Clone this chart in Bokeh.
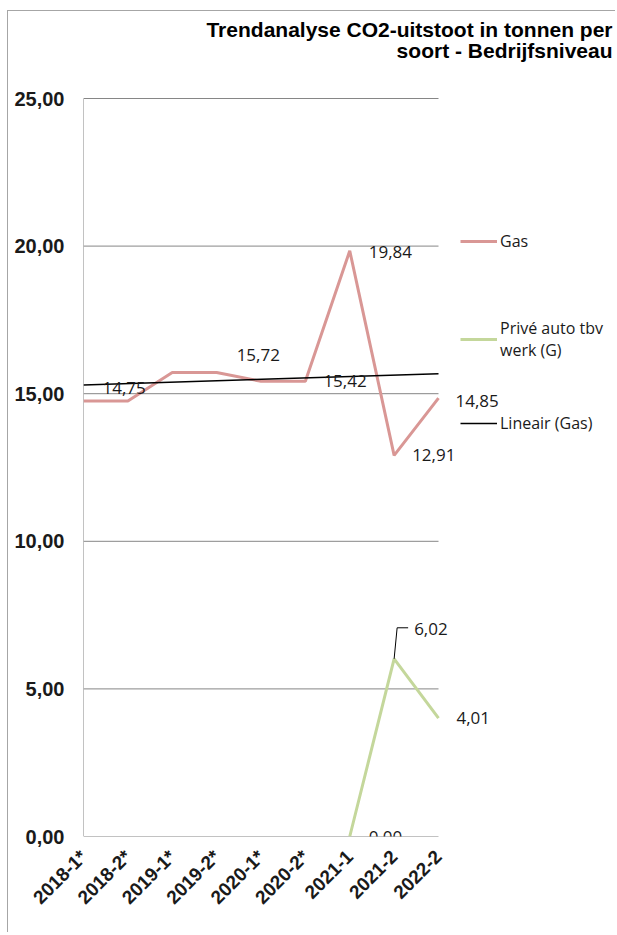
import numpy as np
from bokeh.plotting import figure
from bokeh.models import (ColumnDataSource, Range1d, FixedTicker, LabelSet, Label,
                          Legend, LegendItem)
from bokeh.core.properties import value
from bokeh.embed import file_html
from bokeh.resources import INLINE

nan = float("nan")

# ---------------- data ----------------
categories = ["2018-1*", "2018-2*", "2019-1*", "2019-2*", "2020-1*", "2020-2*",
              "2021-1", "2021-2", "2022-2"]
gas = [14.75, 14.75, 15.72, 15.72, 15.42, 15.42, 19.84, 12.91, 14.85]
prive_auto = [nan, nan, nan, nan, nan, nan, 0.00, 6.02, 4.01]
y_ticks = [0, 5, 10, 15, 20, 25]
y_tick_labels = ["0,00", "5,00", "10,00", "15,00", "20,00", "25,00"]
title_lines = ["Trendanalyse CO2-uitstoot in tonnen per", "soort - Bedrijfsniveau"]
legend_labels = ["Gas", "Privé auto tbv\nwerk (G)", "Lineair (Gas)"]

# which points carry a data label, and the label's pixel offset (layout only)
gas_label_idx = [0, 3, 5, 6, 7, 8]
gas_label_off = [(19, 13), (20, 17), (18, 0), (19, -1), (18, 0), (17, -3)]
prive_label_idx = [6, 7, 8]
prive_label_off = [(19, 0), (20, 30), (18, 0)]

# ---------------- layout (page pixels) ----------------
OX, OY = 8, 11                     # canvas origin on the page (margin 7/10 + 1px border)
W, H = 608, 922                    # canvas size
PLOT_L, PLOT_R, PLOT_T, PLOT_B = 83, 438, 98, 836   # chart area on the page
LEGEND_LEFT = 460
LEGEND_BOTTOMS = [252, 361, 434]   # bottom edge of each legend entry on the page
X_MAX = len(categories) - 1
Y_MAX = 25
px_x = (PLOT_R - PLOT_L) / X_MAX
px_y = (PLOT_B - PLOT_T) / Y_MAX
# the frame spans from the chart's left edge to the canvas right / top edges
x_end = (OX + W - PLOT_L) / px_x
y_end = Y_MAX + (PLOT_T - OY) / px_y

GAS_COLOR = "#D99795"
PRIVE_COLOR = "#C4D79B"
GRID_COLOR = "#868686"
TEXT_COLOR = "#1a1a1a"

fmt = lambda v: f"{v:.2f}".replace(".", ",")

x = list(range(len(categories)))

p = figure(width=W, height=H, output_backend="svg", toolbar_location=None,
           x_range=Range1d(0, x_end), y_range=Range1d(0, y_end),
           min_border_left=PLOT_L - OX, min_border_right=0,
           min_border_top=0, min_border_bottom=OY + H - PLOT_B)
p.outline_line_color = None
p.styles = {"margin-left": "7px", "margin-top": "10px",
            "border-left": "1px solid #a6a6a6", "border-top": "1px solid #a6a6a6"}

# grid lines (limited to the chart area) and the left axis line
p.xgrid.visible = False
p.ygrid.visible = False
p.segment(x0=[0] * len(y_ticks), y0=y_ticks, x1=[X_MAX] * len(y_ticks), y1=y_ticks,
          line_color=GRID_COLOR, line_width=1)
p.segment(x0=[0], y0=[0], x1=[0], y1=[Y_MAX], line_color=GRID_COLOR, line_width=1)

# axes
p.yaxis.ticker = FixedTicker(ticks=y_ticks)
p.yaxis.major_label_overrides = {t: l for t, l in zip(y_ticks, y_tick_labels)}
p.xaxis.ticker = FixedTicker(ticks=x)
p.xaxis.major_label_overrides = {i: c for i, c in zip(x, categories)}
p.xaxis.major_label_orientation = np.pi / 4
for ax in (p.xaxis, p.yaxis):
    ax.axis_line_color = None
    ax.major_tick_line_color = None
    ax.minor_tick_line_color = None
    ax.major_tick_out = 0
    ax.major_tick_in = 0
    ax.major_label_text_font = "Liberation Sans"
    ax.major_label_text_font_style = "bold"
    ax.major_label_text_color = TEXT_COLOR
p.yaxis.major_label_text_font_size = "20px"
p.yaxis.major_label_standoff = 19
p.xaxis.major_label_text_font_size = "19px"
p.xaxis.major_label_standoff = 17

# series
src = ColumnDataSource(dict(x=x, gas=gas, prive=prive_auto))
r_gas = p.line("x", "gas", source=src, line_color=GAS_COLOR, line_width=3)
r_prive = p.line("x", "prive", source=src, line_color=PRIVE_COLOR, line_width=3)

# linear trend of gas
slope, intercept = np.polyfit(x, gas, 1)
trend_x = [0, X_MAX]
trend_y = [intercept + slope * t for t in trend_x]
r_trend = p.line(trend_x, trend_y, line_color="black", line_width=1.5)

# data labels
def label_source(values, idx, offs):
    return ColumnDataSource(dict(
        x=[x[i] for i in idx],
        y=[values[i] for i in idx],
        text=[fmt(values[i]) for i in idx],
        dx=[o[0] for o in offs],
        dy=[o[1] for o in offs],
    ))

for vals, idx, offs in ((gas, gas_label_idx, gas_label_off),
                        (prive_auto, prive_label_idx, prive_label_off)):
    p.add_layout(LabelSet(x="x", y="y", text="text", x_offset="dx", y_offset="dy",
                          source=label_source(vals, idx, offs),
                          text_align="left", text_baseline="middle",
                          text_font=value("Open Sans"), text_font_size=value("17px"),
                          text_color=value(TEXT_COLOR)))

# leader line for the 6,02 label
i_lead = 7
lx0, ly0 = x[i_lead], prive_auto[i_lead]
lead_x = [lx0, lx0 + 3 / px_x, lx0 + 14 / px_x]
lead_y = [ly0, ly0 + 31 / px_y, ly0 + 31 / px_y]
p.line(lead_x, lead_y, line_color="black", line_width=1)

# title (right aligned, two lines)
title_right = X_MAX + (612 - PLOT_R) / px_x
for k, line in enumerate(title_lines):
    y_page = 29 + 21 * k
    p.add_layout(Label(x=title_right, y=Y_MAX + (PLOT_T - y_page) / px_y, text=line,
                       text_align="right", text_baseline="middle",
                       text_font="Liberation Sans", text_font_style="bold",
                       text_font_size="21px", text_color="black"))

# legend entries (location measured from the frame's bottom-left corner)
for lbl, rend, bottom in zip(legend_labels, (r_gas, r_prive, r_trend), LEGEND_BOTTOMS):
    p.add_layout(Legend(items=[LegendItem(label=lbl, renderers=[rend])],
                        location=(LEGEND_LEFT - PLOT_L, PLOT_B - bottom),
                        padding=0, margin=0,
                        glyph_width=37, glyph_height=20, label_standoff=3,
                        border_line_alpha=0, background_fill_alpha=0,
                        label_text_font="Open Sans", label_text_font_size="16px",
                        label_text_color=TEXT_COLOR))

open("out.html", "w").write(file_html(p, INLINE))
